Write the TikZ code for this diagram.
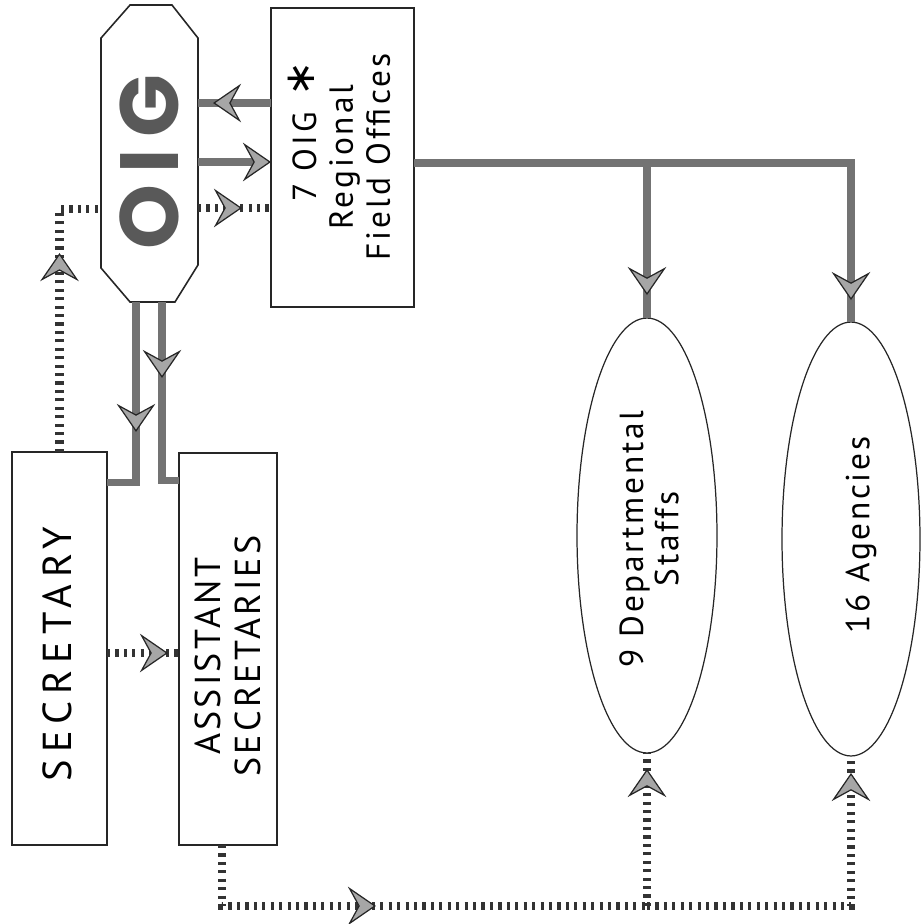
\documentclass[tikz,border=0pt]{standalone}
\usepackage{fontspec}
\setmainfont{PT Sans}
\newfontfamily\secfont[LetterSpace=17]{PT Sans}
\newfontfamily\asfont[LetterSpace=9]{PT Sans}
\newfontfamily\fofont[LetterSpace=9]{PT Sans}
\newfontfamily\elfont[LetterSpace=8]{PT Sans}
\newfontfamily\oigfont[LetterSpace=14]{Poppins}
\newfontfamily\djv{DejaVu Sans}
\usetikzlibrary{arrows.meta,decorations.markings,calc,shapes.geometric}
\tikzset{
  boxnode/.style={draw=black!85, line width=0.9pt, inner sep=0pt, outer sep=0pt},
  frame/.style={draw=black!85, line width=0.9pt},
  ellnode/.style={draw=black!85, line width=0.7pt, ellipse, inner sep=0pt, outer sep=0pt},
  lbl/.style={rotate=90, inner sep=0pt, align=center},
  solidline/.style={draw=black!55, line width=4pt},
  ladder/.style={draw=black!80, line width=5pt, dash pattern=on 1.8pt off 3pt},
  headtip/.tip={Stealth[length=16pt,width=22pt,inset=6pt,line width=0.7pt,fill=black!35,color=black!85]},
  arrowat/.style={postaction={decorate}, decoration={markings, mark=at position #1 with {\arrow{headtip}}}}
}
\begin{document}
\begin{tikzpicture}[x=0.02cm,y=-0.02cm]
\useasboundingbox (0,0) rectangle (921,924);

% boxes
\node[boxnode, minimum width=1.9cm, minimum height=7.86cm] (sec) at (59.5,648.5) {};
\node[boxnode, minimum width=1.96cm, minimum height=7.84cm] (asst) at (228,649) {};
\node[boxnode, minimum width=2.86cm, minimum height=5.98cm] (fo) at (342.5,157.5) {};
\node[draw=none, inner sep=0pt, outer sep=0pt, minimum width=1.94cm, minimum height=5.94cm] (oig) at (149.5,153.5) {};
\node[ellnode, minimum width=2.8cm, minimum height=8.7cm] (dept) at (647,535.5) {};
\node[ellnode, minimum width=2.76cm, minimum height=8.68cm] (agen) at (851,539) {};

% OIG octagon
\draw[frame] ($(oig.north west)+(0,33)$) -- ($(oig.north west)+(29,0)$)
  -- ($(oig.north east)+(-26,0)$) -- ($(oig.north east)+(0,33)$)
  -- ($(oig.south east)+(0,-37)$) -- ($(oig.south east)+(-23,0)$)
  -- ($(oig.south west)+(29,0)$) -- ($(oig.south west)+(0,-34)$) -- cycle;

% texts
\node[lbl, text=black!65, font=\oigfont\bfseries\fontsize{47}{50}\selectfont] (oigtext) at (149,162) {OIG};
\node[lbl, font=\secfont\fontsize{23}{26}\selectfont] (sectext) at (57,654) {SECRETARY};
\node[lbl, font=\asfont\fontsize{20.5}{23.2}\selectfont] (asttext) at (228,656) {ASSISTANT\\SECRETARIES};
\node[lbl, font=\fofont\fontsize{19}{21}\selectfont] (fotext) at (339,157) {7 OIG\rlap{\hspace{9pt}\raisebox{1pt}{\djv\fontsize{24}{24}\selectfont ∗}}\\Regional\\Field Offices};
\node[lbl, font=\elfont\fontsize{19}{20}\selectfont] (depttext) at (649,539) {9 Departmental\\Staffs};
\node[lbl, font=\elfont\fontsize{19}{20}\selectfont] (agentext) at (861,535) {16 Agencies};

% connectors between OIG and field offices
\coordinate (p1) at ($(fo.west)+(0,-54.5)$);
\draw[solidline, arrowat=1.16cm] (p1) -- (p1 -| oig.east);
\coordinate (p2) at ($(oig.east)+(0,8.5)$);
\draw[solidline, -{headtip}] (p2) -- (p2 -| fo.west);
\coordinate (p3) at ($(oig.east)+(0,54.5)$);
\draw[ladder, arrowat=0.88cm] (p3) -- (p3 -| fo.west);

% secretary -> OIG
\coordinate (p4) at ($(oig.west)+(0,55.5)$);
\draw[ladder, arrowat=3.98cm] (sec.north) |- (p4);

% OIG -> secretary / assistant secretaries
\coordinate (p5) at ($(oig.south)+(-13.5,0)$);
\draw[solidline, arrowat=2.6cm] (p5) |- ($(sec.north east)+(0,30)$);
\coordinate (p6) at ($(oig.south)+(12.5,0)$);
\draw[solidline, arrowat=1.52cm] (p6) |- ($(asst.north west)+(0,27)$);

% secretary -> assistant secretaries
\coordinate (p7) at ($(sec.east)+(0,4.5)$);
\draw[ladder, arrowat=1.22cm] (p7) -- (p7 -| asst.west);

% assistant secretaries -> staffs / agencies
\coordinate (p8) at ($(asst.south)+(-6,0)$);
\coordinate (jd) at ($(dept.south)+(0,153)$);
\draw[ladder, arrowat=4.3cm] (p8) |- (jd);
\draw[ladder, arrowat=-0.32cm] (jd) -- (dept.south);
\draw[ladder, arrowat=-0.34cm] (jd) -| (agen.south);

% field offices -> staffs / agencies
\coordinate (f0) at ($(fo.east)+(0,5.5)$);
\coordinate (jt) at (dept.north |- f0);
\draw[solidline] (f0) -- (jt);
\draw[solidline, arrowat=-0.46cm] (jt) -- (dept.north);
\draw[solidline, arrowat=-0.44cm] (jt) -| (agen.north);
\end{tikzpicture}
\end{document}
